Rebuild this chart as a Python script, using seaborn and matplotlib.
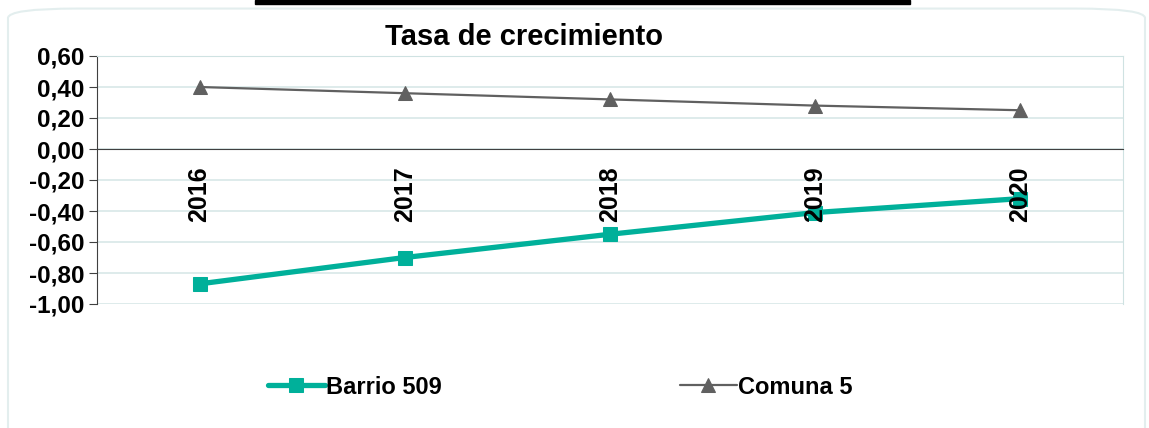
import pandas as pd
import matplotlib.pyplot as plt
import seaborn as sns
from matplotlib.patches import FancyBboxPatch, Rectangle

# values
years = ["2016", "2017", "2018", "2019", "2020"]
barrio = [-0.87, -0.70, -0.55, -0.41, -0.32]
comuna = [0.40, 0.36, 0.32, 0.28, 0.25]
yticks = [0.6, 0.4, 0.2, 0.0, -0.2, -0.4, -0.6, -0.8, -1.0]

sns.set_style("white")
plt.rcParams['font.family'] = ['Liberation Sans', 'DejaVu Sans']
plt.rcParams['font.weight'] = 'bold'
plt.rcParams['text.color'] = 'black'

df = pd.DataFrame({"year": years * 2,
                   "value": barrio + comuna,
                   "serie": ["Barrio 509"] * 5 + ["Comuna 5"] * 5})

fig = plt.figure(figsize=(11.49, 4.28), dpi=100)
ax = fig.add_axes([97 / 1149, 1 - 304 / 428, (1123 - 97) / 1149, (304 - 56) / 428])

# outer rounded frame and the black bar at the top
fig.patches.append(FancyBboxPatch((8 / 1149, -0.05), 1137 / 1149, 1.03,
                                  boxstyle="round,pad=0,rounding_size=0.06",
                                  transform=fig.transFigure, fc="none",
                                  ec="#e3eeee", lw=1.5, mutation_aspect=428 / 1149))
fig.patches.append(Rectangle((255 / 1149, 1 - 4 / 428), 655 / 1149, 4 / 428,
                             transform=fig.transFigure, color="black"))

sns.lineplot(data=df[df.serie == "Barrio 509"], x="year", y="value", ax=ax,
             color="#00b09a", lw=3.8, marker="s", markersize=10, mec="#00b09a",
             label="Barrio 509", sort=False)
sns.lineplot(data=df[df.serie == "Comuna 5"], x="year", y="value", ax=ax,
             color="#606060", lw=1.6, marker="^", markersize=10, mec="#606060",
             label="Comuna 5", sort=False)

ax.set_xlim(-0.5, 4.5)
ax.set_ylim(-1.0, 0.6)
ax.set_yticks(yticks)
ax.set_yticklabels([f"{v:.2f}".replace(".", ",") for v in yticks],
                   fontsize=17.5, fontweight="bold")
ax.grid(axis="y", color="#d8e8e8", lw=1.2)
ax.set_xlabel("")
ax.set_ylabel("")

# x axis crossing at zero, year labels inside the plot (drawn over the lines)
ax.spines['bottom'].set_position(('data', 0))
ax.spines['bottom'].set_color("#404040")
ax.spines['left'].set_color("#404040")
ax.spines['top'].set_color("#cfe2e2")
ax.spines['right'].set_color("#cfe2e2")
ax.set_xticks(range(5))
ax.set_xticklabels([])
ax.set_xticks([0.5, 1.5, 2.5, 3.5, 4.5], minor=True)
ax.tick_params(axis="x", which="major", length=0)
ax.tick_params(axis="x", which="minor", length=7, direction="out", color="#404040")
ax.tick_params(axis="y", length=6, direction="out", color="#404040", left=True, pad=3,
               labelcolor="black")
for i, yr in enumerate(years):
    ax.annotate(yr, (i, 0), xytext=(0, -17), textcoords="offset pixels",
                rotation=90, ha="center", va="top", fontsize=18, fontweight="bold",
                zorder=6)

fig.text(524 / 1149, 1 - 37 / 428, "Tasa de crecimiento", fontsize=21,
         fontweight="bold", ha="center", va="center")

ax.get_legend().remove()
h, l = ax.get_legend_handles_labels()
fig.legend(h, l, ncol=2, loc="center left", bbox_to_anchor=(268 / 1149, 1 - 387 / 428),
           frameon=False, handlelength=2.4, handletextpad=0.05,
           columnspacing=10.1, borderpad=0, borderaxespad=0,
           prop={"weight": "bold", "size": 17})

fig.savefig("out.png", dpi=100)
